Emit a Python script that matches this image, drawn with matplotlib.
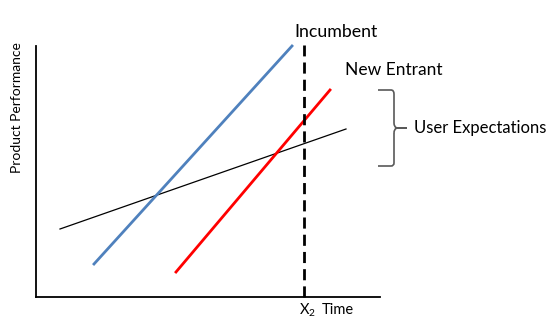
import matplotlib
matplotlib.use("Agg")
import matplotlib.pyplot as plt
from matplotlib.path import Path
from matplotlib.patches import PathPatch

plt.rcParams["font.family"] = ["Lato", "DejaVu Sans"]

# line end points (axis units, origin at the axes corner)
user_x = [24, 310]
user_y = [68, 168]
incumbent_x = [58, 256]
incumbent_y = [33, 251]
entrant_x = [140, 294]
entrant_y = [25, 207]
x2 = 268

fig = plt.figure(figsize=(5.49, 3.28), dpi=100)
ax = fig.add_axes([36 / 549, 31 / 328, 344 / 549, 251 / 328])
ax.set_xlim(0, 344)
ax.set_ylim(0, 251)
for s in ["top", "right"]:
    ax.spines[s].set_visible(False)
for s in ["left", "bottom"]:
    ax.spines[s].set_linewidth(1.3)
ax.set_xticks([])
ax.set_yticks([])

ax.plot(user_x, user_y, color="black", lw=0.9, clip_on=False)
ax.plot(incumbent_x, incumbent_y, color="#4F81BD", lw=2.0, clip_on=False)
ax.plot(entrant_x, entrant_y, color="#FF0000", lw=2.0, clip_on=False)
ax.plot([x2, x2], [0, 252], color="black", lw=2.0, ls=(0, (4, 2.2)), clip_on=False)

ax.text(300, 265, "Incumbent", fontsize=12.8, ha="center", va="center", clip_on=False)
ax.text(358, 227, "New Entrant", fontsize=12.5, ha="center", va="center", clip_on=False)
ax.text(378, 169, "User Expectations", fontsize=12, ha="left", va="center", clip_on=False)

# curly brace
verts = [(342, 207), (355, 207), (358, 207), (358, 203), (358, 174),
         (358, 170), (361, 169), (371, 169),
         (358, 164), (358, 168), (361, 169), (371, 169),
         (358, 164), (358, 134), (358, 131), (355, 131), (342, 131)]
codes = [Path.MOVETO, Path.LINETO, Path.CURVE3, Path.CURVE3, Path.LINETO,
         Path.CURVE3, Path.CURVE3, Path.LINETO,
         Path.MOVETO, Path.CURVE3, Path.CURVE3, Path.LINETO,
         Path.MOVETO, Path.LINETO, Path.CURVE3, Path.CURVE3, Path.LINETO]
ax.add_patch(PathPatch(Path(verts, codes), fc="none", ec="#595959", lw=1.2, clip_on=False))

ax.text(x2 + 3, -13, r"X$_\mathregular{2}$", fontsize=10.5, ha="center", va="center", clip_on=False)
ax.text(302, -13, "Time", fontsize=10.5, ha="center", va="center", clip_on=False)
ax.text(-19, 189, "Product Performance", fontsize=10, rotation=90,
        ha="center", va="center", clip_on=False)

fig.savefig("out.png", dpi=100)
